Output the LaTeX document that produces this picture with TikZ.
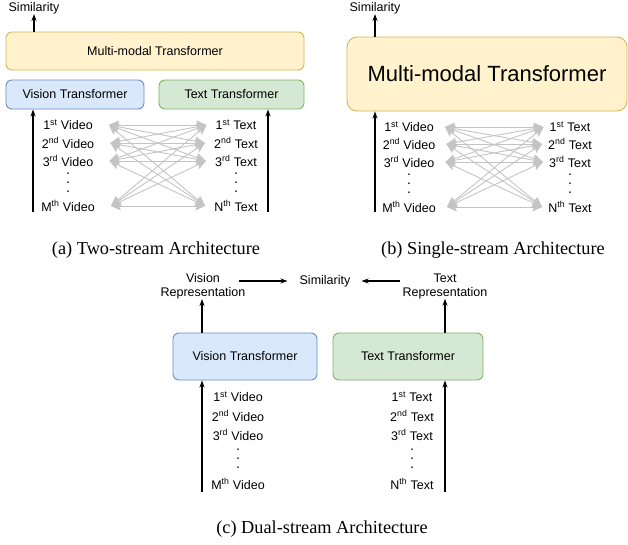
\documentclass[tikz,border=0pt]{standalone}
\usepackage{fontspec}
\setmainfont{Liberation Serif}
\setsansfont{Liberation Sans}
\usetikzlibrary{
    arrows.meta,
    positioning,
    calc
}
\definecolor{mmfill}{HTML}{FFF2CC}
\definecolor{mmline}{HTML}{D6B656}
\definecolor{visfill}{HTML}{DAE8FC}
\definecolor{visline}{HTML}{6C8EBF}
\definecolor{txtfill}{HTML}{D5E8D4}
\definecolor{txtline}{HTML}{82B366}
\definecolor{matchgray}{HTML}{C4C4C4}
% tight vertical dots
\newcommand{\colddots}{\vbox{\baselineskip=9pt\lineskiplimit=0pt\hbox{.}\hbox{.}\hbox{.}}}
\tikzset{
    % Encoder boxes
    block/.style={
        rectangle,
        rounded corners=6pt,
        align=center,
        font=\sffamily\fontsize{12.5}{15}\selectfont,
        draw=#1line,
        fill=#1fill,
        line width=0.9pt
    },
    % Input labels
    item/.style={
        font=\sffamily\fontsize{12.5}{15}\selectfont,
        inner sep=1pt
    },
    vdots/.style={
        font=\sffamily\fontsize{14}{14}\selectfont,
        inner sep=0pt
    },
    outlabel/.style={
        font=\sffamily\fontsize{12.5}{14}\selectfont,
        align=center,
        inner sep=0pt
    },
    % Arrow styles
    flow/.style={
        -{Stealth[length=7pt, width=5pt]},
        line width=1.1pt,
        color=black
    },
    match/.style={
        {Stealth[length=10pt, width=9pt, inset=2pt]}-{Stealth[length=10pt, width=9pt, inset=2pt]},
        line width=0.9pt,
        color=matchgray
    },
    % Sub-figure captions
    caption/.style={
        font=\rmfamily\fontsize{18.3}{20}\selectfont
    }
}

\begin{document}
\begin{tikzpicture}[x=1pt, y=-1pt]
    \useasboundingbox (0,0) rectangle (628,544);

    % (a) Two-stream
    \node[outlabel] (a-sim) at (34,8) {Similarity};
    \node[block=mm, minimum width=298pt, minimum height=38pt] (a-mm) at (155,51) {Multi-modal Transformer};
    \node[block=vis, minimum width=138pt, minimum height=29pt] (a-vt) at (75,94.5) {Vision Transformer};
    \node[block=txt, minimum width=145pt, minimum height=29pt] (a-tt) at (231.5,94.5) {Text Transformer};

    \node[item] (a-v1) at (68,125) {1\textsuperscript{st} Video};
    \node[item] (a-v2) at (68,143) {2\textsuperscript{nd} Video};
    \node[item] (a-v3) at (68,161) {3\textsuperscript{rd} Video};
    \node[vdots] (a-vd) at (68,183) {\colddots};
    \node[item] (a-v4) at (68,206) {M\textsuperscript{th} Video};

    \node[item] (a-t1) at (236,125) {1\textsuperscript{st} Text};
    \node[item] (a-t2) at (236,143) {2\textsuperscript{nd} Text};
    \node[item] (a-t3) at (236,161) {3\textsuperscript{rd} Text};
    \node[vdots] (a-td) at (236,183) {\colddots};
    \node[item] (a-t4) at (236,206) {N\textsuperscript{th} Text};

    \coordinate (a-in1) at (33,212);
    \coordinate (a-in2) at (268,212);
    \draw[flow] (a-in1) -- (a-in1 |- a-vt.south);
    \draw[flow] (a-in2) -- (a-in2 |- a-tt.south);
    \draw[flow] (a-sim.south |- a-mm.north) -- (a-sim.south);

    \foreach \i in {1,2,3,4}
        \foreach \j in {1,2,3,4}
            \draw[match] ([xshift=15pt]a-v\i.east) -- ([xshift=-8pt]a-t\j.west);

    \node[caption] (cap-a) at (156,250) {(a) Two-stream Architecture};

    % (b) Single-stream
    \node[outlabel] (b-sim) at (375,8) {Similarity};
    \node[block=mm, rounded corners=10pt, minimum width=280pt, minimum height=74pt,
          font=\sffamily\fontsize{22}{26}\selectfont] (b-mm) at (487,74) {Multi-modal Transformer};

    \node[item] (b-v1) at (409,127) {1\textsuperscript{st} Video};
    \node[item] (b-v2) at (409,144) {2\textsuperscript{nd} Video};
    \node[item] (b-v3) at (409,162) {3\textsuperscript{rd} Video};
    \node[vdots] (b-vd) at (409,184) {\colddots};
    \node[item] (b-v4) at (409,207) {M\textsuperscript{th} Video};

    \node[item] (b-t1) at (570,127) {1\textsuperscript{st} Text};
    \node[item] (b-t2) at (570,144) {2\textsuperscript{nd} Text};
    \node[item] (b-t3) at (570,162) {3\textsuperscript{rd} Text};
    \node[vdots] (b-td) at (570,184) {\colddots};
    \node[item] (b-t4) at (570,207) {N\textsuperscript{th} Text};

    \coordinate (b-in) at (375,212);
    \draw[flow] (b-in) -- (b-in |- b-mm.south);
    \draw[flow] (b-sim.south |- b-mm.north) -- (b-sim.south);

    \foreach \i in {1,2,3,4}
        \foreach \j in {1,2,3,4}
            \draw[match] ([xshift=10pt]b-v\i.east) -- ([xshift=-5pt]b-t\j.west);

    \node[caption] (cap-b) at (493,250) {(b) Single-stream Architecture};

    % (c) Dual-stream
    \node[outlabel] (c-sim) at (325,281) {Similarity};
    \node[outlabel] (c-vrep) at (203,286) {Vision\\Representation};
    \node[outlabel] (c-trep) at (445,286) {Text\\Representation};
    \node[block=vis, minimum width=144pt, minimum height=47pt] (c-vt) at (245,356.5) {Vision Transformer};
    \node[block=txt, minimum width=150pt, minimum height=47pt] (c-tt) at (408,356.5) {Text Transformer};

    \node[item] (c-v1) at (238,397) {1\textsuperscript{st} Video};
    \node[item] (c-v2) at (238,416) {2\textsuperscript{nd} Video};
    \node[item] (c-v3) at (238,435) {3\textsuperscript{rd} Video};
    \node[vdots] (c-vd) at (238,459) {\colddots};
    \node[item] (c-v4) at (238,484) {M\textsuperscript{th} Video};

    \node[item] (c-t1) at (412,397) {1\textsuperscript{st} Text};
    \node[item] (c-t2) at (412,416) {2\textsuperscript{nd} Text};
    \node[item] (c-t3) at (412,435) {3\textsuperscript{rd} Text};
    \node[vdots] (c-td) at (412,459) {\colddots};
    \node[item] (c-t4) at (412,484) {N\textsuperscript{th} Text};

    \coordinate (c-in1) at (202,492);
    \coordinate (c-in2) at (445,492);
    \draw[flow] (c-in1) -- (c-in1 |- c-vt.south);
    \draw[flow] (c-in2) -- (c-in2 |- c-tt.south);
    \draw[flow] (c-in1 |- c-vt.north) -- (c-in1 |- c-vrep.south);
    \draw[flow] (c-in2 |- c-tt.north) -- (c-in2 |- c-trep.south);
    \draw[flow, shorten <=-7pt, shorten >=12pt] (c-vrep.east |- c-sim) -- (c-sim.west);
    \draw[flow, shorten <=2pt, shorten >=11pt] (c-trep.west |- c-sim) -- (c-sim.east);

    \node[caption] (cap-c) at (322,529) {(c) Dual-stream Architecture};
\end{tikzpicture}
\end{document}
